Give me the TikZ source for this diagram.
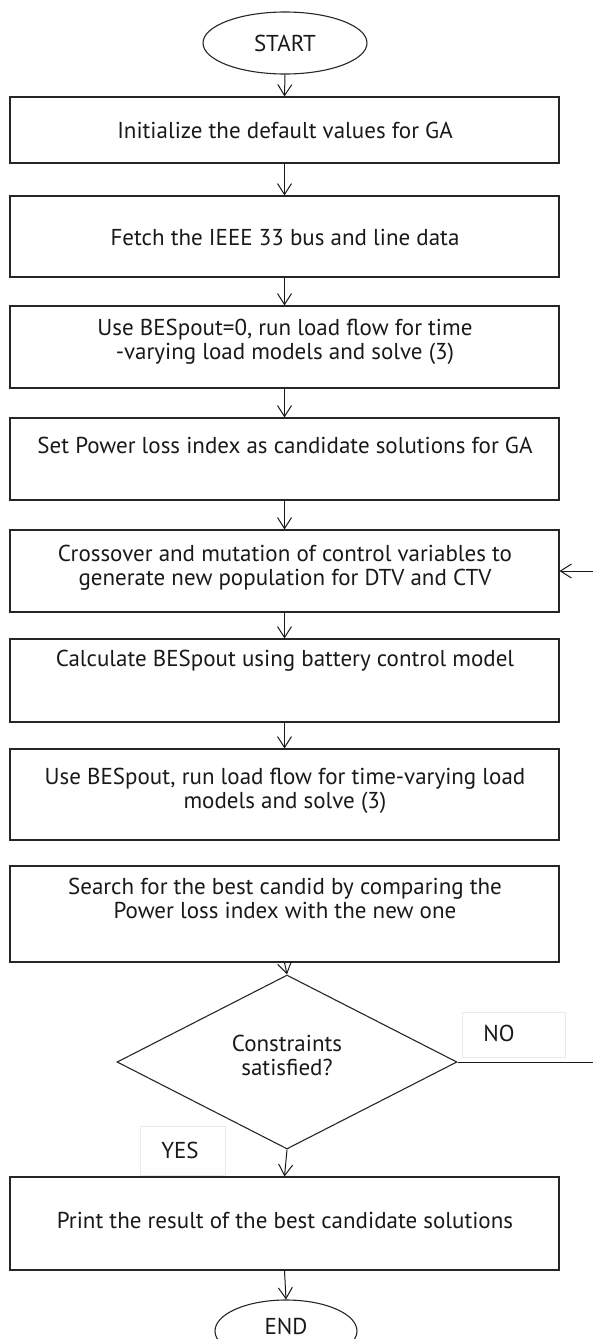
\documentclass[tikz,border=0pt]{standalone}
\usepackage{fontspec}
\setmainfont{PT Sans}
\usetikzlibrary{arrows.meta,shapes.geometric}
\tikzset{
  boxnode/.style={draw=black!85, line width=1.1pt, rectangle, minimum width=549pt, inner sep=0pt},
  txtnode/.style={font=\fontsize{23}{24}\selectfont, align=center, inner sep=0pt, text=black!90},
  termnode/.style={draw=black!85, line width=1.1pt, ellipse, inner sep=0pt},
  decnode/.style={draw=black!85, line width=1.1pt, diamond, inner sep=0pt, minimum width=340pt, minimum height=174pt},
  faintbox/.style={draw=black!8, line width=0.8pt},
  conn/.style={draw=black!90, line width=1pt, -{Straight Barb[length=11pt,width=14pt,line width=1pt]}},
  plainconn/.style={draw=black!90, line width=1pt},
}
\begin{document}
\begin{tikzpicture}[x=1pt,y=-1pt]
\useasboundingbox (0,0) rectangle (592,1339);
% terminals
\node[termnode, minimum width=164pt, minimum height=62pt] (start) at (285,43) {};
\node[txtnode] (tstart) at (285,43) {START};
% boxes
\node[boxnode, minimum height=66pt] (b1) at (284.5,130) {};
\node[txtnode] (t1) at (285,130) {Initialize the default values for GA};
\node[boxnode, minimum height=81pt] (b2) at (284.5,236.5) {};
\node[txtnode] (t2) at (285,237) {Fetch the IEEE 33 bus and line data};
\node[boxnode, minimum height=82pt] (b3) at (284.5,347) {};
\node[txtnode] (t3) at (285,342) {Use BESpout=0, run load flow for time\\-varying load models and solve (3)};
\node[boxnode, minimum height=82pt] (b4) at (284.5,459) {};
\node[txtnode] (t4) at (285,445) {Set Power loss index as candidate solutions for GA};
\node[boxnode, minimum height=82pt] (b5) at (284.5,571) {};
\node[txtnode] (t5) at (285,568) {Crossover and mutation of control variables to\\generate new population for DTV and CTV};
\node[boxnode, minimum height=83pt] (b6) at (284.5,680.5) {};
\node[txtnode] (t6) at (285,661) {Calculate BESpout using battery control model};
\node[boxnode, minimum height=91pt] (b7) at (284.5,794.5) {};
\node[txtnode] (t7) at (285,791) {Use BESpout, run load flow for time-varying load\\models and solve (3)};
\node[boxnode, minimum height=96pt] (b8) at (284.5,914) {};
\node[txtnode] (t8) at (285,898) {Search for the best candid by comparing the\\Power loss index with the new one};
% decision
\node[decnode] (dec) at (287,1062) {};
\node[txtnode] (tdec) at (287,1055) {Constraints\\satisfied?};
\node[boxnode, minimum height=93pt] (b9) at (284.5,1223.5) {};
\node[txtnode] (t9) at (285,1220) {Print the result of the best candidate solutions};
\node[termnode, minimum width=142pt, minimum height=62pt] (endn) at (286,1331) {};
\node[txtnode] (tend) at (286,1326) {END};
% labels
\node[faintbox, minimum width=103pt, minimum height=45pt, inner sep=0pt] (nobox) at (513.5,1034.5) {};
\node[txtnode] (tno) at (499,1033) {NO};
\node[faintbox, minimum width=85pt, minimum height=49pt, inner sep=0pt] (yesbox) at (182.5,1150.5) {};
\node[txtnode] (tyes) at (180,1150) {YES};
% connectors
\draw[conn] (start.south) -- (b1.north);
\draw[conn] (b1.south) -- (b2.north);
\draw[conn] (b2.south) -- (b3.north);
\draw[conn] (b3.south) -- (b4.north);
\draw[conn] (b4.south) -- (b5.north);
\draw[conn] (b5.south) -- (b6.north);
\draw[conn] (b6.south) -- (b7.north);
\draw[conn] (b8.south) -- (dec.north);
\draw[conn] (dec.south) -- (b9.north);
\draw[conn] (b9.south) -- (endn.north);
\coordinate (fbA) at (595,1062);
\coordinate (fbB) at (595,571);
\draw[plainconn] (dec.east) -- (fbA) -- (fbB);
\draw[conn] (fbB) -- (b5.east);
\end{tikzpicture}
\end{document}
